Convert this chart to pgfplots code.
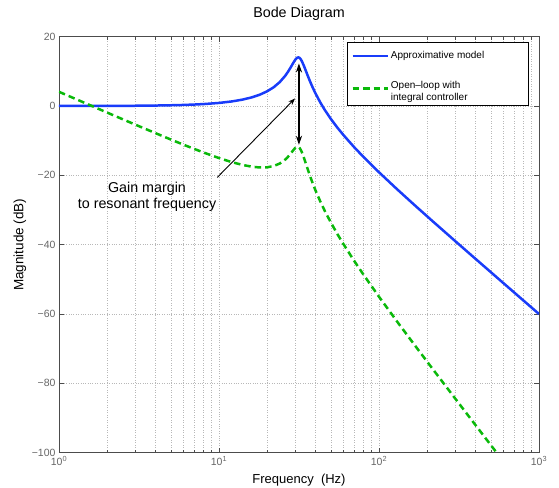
\documentclass[border=0pt]{standalone}
\usepackage{fontspec}
\setmainfont{Liberation Sans}
\usepackage{pgfplots}
\pgfplotsset{compat=1.18}
\usepackage{pgfplotstable}
\usetikzlibrary{arrows.meta}
\definecolor{mblue}{RGB}{25,60,250}
\definecolor{mgreen}{RGB}{10,185,10}
\newcommand\fs[2]{\fontsize{#1bp}{#2bp}\selectfont}
\pgfplotstableread{
f blue green
1 0.01 4.11
1.5 0.02 0.60
2 0.03 -1.89
3 0.08 -5.37
4 0.14 -7.80
5 0.22 -9.66
6 0.31 -11.15
7 0.43 -12.37
8 0.56 -13.40
10 0.89 -15.01
12 1.32 -16.17
14 1.84 -16.98
16 2.49 -17.49
18 3.28 -17.73
20 4.25 -17.67
22 5.44 -17.31
24 6.93 -16.57
26 8.79 -15.41
27 9.89 -14.64
28 11.08 -13.76
29 12.30 -12.85
29.5 12.87 -12.43
30 13.37 -12.07
30.5 13.76 -11.83
31 13.98 -11.75
31.3 14.02 -11.79
31.6 13.99 -11.91
32 13.82 -12.19
32.5 13.43 -12.71
33 12.88 -13.39
34 11.51 -15.02
35 10.02 -16.76
36 8.56 -18.47
37 7.19 -20.07
38 5.94 -21.56
40 3.73 -24.21
43 1.00 -27.57
46 -1.24 -30.40
50 -3.71 -33.59
55 -6.26 -36.97
60 -8.39 -39.85
70 -11.88 -44.68
80 -14.69 -48.65
100 -19.11 -55.01
130 -24.04 -62.22
170 -28.92 -69.43
220 -33.52 -76.27
300 -38.99 -84.43
400 -44.03 -91.97
550 -49.59 -100.30
700 -53.79 -106.59
1000 -59.99 -115.89
}\bode
\begin{document}
\begin{tikzpicture}
\path[use as bounding box] (-59bp,-35.3bp) rectangle (500bp,452.7bp);
\begin{axis}[
  at={(0,0)}, anchor=south west,
  scale only axis, width=480bp, height=416bp,
  xmode=log, xmin=1, xmax=1000, ymin=-100, ymax=20,
  xtick={1,10,100,1000},
  xticklabels={10\textsuperscript{0},10\textsuperscript{1},10\textsuperscript{2},10\textsuperscript{3}},
  minor xtick={2,3,4,5,6,7,8,9,20,30,40,50,60,70,80,90,200,300,400,500,600,700,800,900},
  ytick={-100,-80,-60,-40,-20,0,20},
  yticklabels={−100,−80,−60,−40,−20,0,20},
  tick align=inside,
  major tick length=5bp, minor tick length=3bp,
  every tick/.style={black!70, line width=0.5pt},
  axis line style={black!70, line width=0.6pt},
  ticklabel style={font=\fs{10.5}{12}, text=black!60},
  xmajorgrids, xminorgrids, ymajorgrids,
  grid style={dotted, black!28, line width=0.5pt},
  minor grid style={dotted, black!28, line width=0.5pt},
  title={Bode Diagram},
  title style={font=\fs{14.3}{16}, at={(axis description cs:0.5,1)}, anchor=center, yshift=16.5bp},
  xlabel={Frequency\ \ (Hz)},
  ylabel={Magnitude (dB)},
  xlabel style={font=\fs{13}{15}, at={(axis description cs:0.5,0)}, anchor=center, yshift=-27bp},
  ylabel style={font=\fs{13.5}{15}, at={(axis description cs:-0.08125,0.5)}, anchor=center},
  legend style={at={(0.98,0.988)}, anchor=north east, draw=black, line width=1pt,
    font=\fs{10}{11.7}, inner xsep=4bp, inner ysep=7.5bp, row sep=17bp,
    cells={anchor=west}},
  legend image code/.code={\draw[#1] (0bp,0bp) -- (35bp,0bp);},
]
\addplot[mblue, line width=2.5pt, line join=round] table[x=f, y=blue] {\bode};
\addlegendentry{\parbox{132bp}{Approximative model}}
\addplot[mgreen, line width=2.5pt, dash pattern=on 6.5bp off 4bp] table[x=f, y=green] {\bode};
\addlegendentry{\parbox{132bp}{Open–loop with\\integral controller}}
\draw[black, line width=2pt, {Stealth[length=9bp,width=6bp]}-{Stealth[length=9bp,width=6bp]}] (axis cs:31.6,12.3) -- (axis cs:31.6,-11.2);
\draw[black, line width=0.9pt, -{Stealth[length=7bp,width=5bp]}] (axis cs:9.75,-20.6) -- (axis cs:29.9,2.2);
\node[font=\fs{14.3}{15.5}, align=center] at (axis cs:3.55,-26.2) {Gain margin\\to resonant frequency};
\end{axis}
\end{tikzpicture}
\end{document}
